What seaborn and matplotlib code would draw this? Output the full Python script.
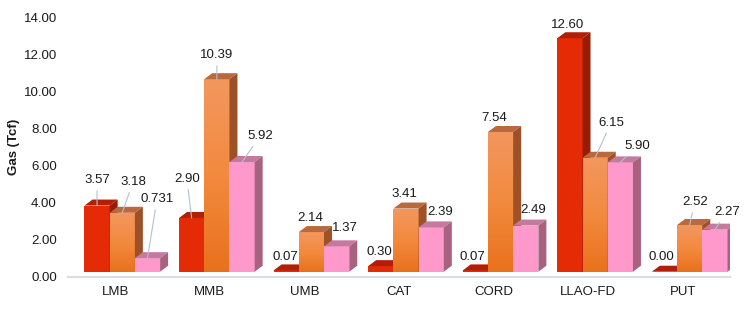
import numpy as np
import pandas as pd
import matplotlib
matplotlib.use('Agg')
import matplotlib.pyplot as plt
import seaborn as sns
from matplotlib.patches import Polygon
from matplotlib.colors import LinearSegmentedColormap

# data
categories = ['LMB', 'MMB', 'UMB', 'CAT', 'CORD', 'LLAO-FD', 'PUT']
series_names = ['Series 1', 'Series 2', 'Series 3']
values_s1 = [3.57, 2.90, 0.07, 0.30, 0.07, 12.60, 0.00]
values_s2 = [3.18, 10.39, 2.14, 3.41, 7.54, 6.15, 2.52]
values_s3 = [0.731, 5.92, 1.37, 2.39, 2.49, 5.90, 2.27]
labels_s1 = ['3.57', '2.90', '0.07', '0.30', '0.07', '12.60', '0.00']
labels_s2 = ['3.18', '10.39', '2.14', '3.41', '7.54', '6.15', '2.52']
labels_s3 = ['0.731', '5.92', '1.37', '2.39', '2.49', '5.90', '2.27']
yticks = [0, 2, 4, 6, 8, 10, 12, 14]

# label placement (pixels from front-top centre of each bar) and leader lines
offsets = [
    [(0, 25.5), (-4.7, 39), (-1, 13.4), (-1, 14), (-2.5, 13.4), (-2, 13), (-2.7, 14.7)],
    [(10.7, 30.8), (0, 24), (-1.5, 14), (-2, 14.5), (-6.7, 14), (16, 35), (5, 23)],
    [(9.5, 59), (18, 26), (8, 18), (9, 15), (7, 15.6), (16.5, 16.4), (12, 17.6)],
]
leaders = [
    [True, True, False, False, False, False, False],
    [True, True, False, False, False, True, True],
    [True, True, False, False, False, True, True],
]

front_colors = ['#E52B05', '#F0823A', '#FF99CC']
top_colors = ['#B01F06', '#B8693D', '#C47A9E']
side_colors = ['#981B04', '#9E5127', '#A8617F']
orange_grad = LinearSegmentedColormap.from_list('og', ['#E8711C', '#F38A3E', '#F2975F'])

df = pd.DataFrame({
    'Basin': categories * 3,
    'Series': np.repeat(series_names, len(categories)),
    'Gas': values_s1 + values_s2 + values_s3,
})
all_labels = [labels_s1, labels_s2, labels_s3]

sns.set_style('white')
plt.rcParams['font.family'] = ['Liberation Sans', 'DejaVu Sans']
fs = 9.5

fig = plt.figure(figsize=(7.48, 3.10), dpi=100)
ax = fig.add_axes([0.0909, 0.1074, 0.885, 0.8368])
sns.barplot(data=df, x='Basin', y='Gas', hue='Series', palette=front_colors,
            width=0.8, saturation=1, errorbar=None, legend=False, ax=ax)
ax.set_xlim(-0.5, 6.5)
ax.set_ylim(0, 14)

px_x = ax.bbox.width / 7.0
px_y = ax.bbox.height / 14.0
shift_x = 7 / px_x
floor = 5 / px_y
dx = 8 / px_x
dy = 6 / px_y

for j, cont in enumerate(ax.containers):
    bars = sorted(cont.patches, key=lambda b: b.get_x())
    for i, bar in enumerate(bars):
        x0 = bar.get_x() + shift_x
        w = bar.get_width()
        h = bar.get_height()
        bar.set_x(x0)
        bar.set_y(floor)
        bar.set_edgecolor('none')
        bar.set_zorder(2 + j)
        x1 = x0 + w
        top = floor + h
        if j == 1:
            grad = np.linspace(0, 1, 256).reshape(-1, 1)
            im = ax.imshow(grad, extent=[x0, x1, floor, top], origin='lower',
                           aspect='auto', cmap=orange_grad, zorder=2 + j + 0.01)
            im.set_clip_path(bar)
        ax.add_patch(Polygon([(x0, top), (x1, top), (x1 + dx, top + dy), (x0 + dx, top + dy)],
                             closed=True, facecolor=top_colors[j], edgecolor='none',
                             zorder=2 + j + 0.5))
        ax.add_patch(Polygon([(x1, floor), (x1 + dx, floor + dy), (x1 + dx, top + dy), (x1, top)],
                             closed=True, facecolor=side_colors[j], edgecolor='none',
                             zorder=2 + j + 0.5))
        ox, oy = offsets[j][i]
        arrow = None
        if leaders[j][i]:
            arrow = dict(arrowstyle='-', color='#B4C0CF', lw=0.8, shrinkA=1, shrinkB=0)
        ax.annotate(all_labels[j][i], xy=(x0 + w / 2, top), xytext=(ox * 0.72, oy * 0.72),
                    textcoords='offset points', ha='center', va='center', fontsize=fs,
                    color='#1A1A1A', arrowprops=arrow, zorder=10, annotation_clip=False)

ax.set_xlim(-0.5, 6.5)
ax.set_ylim(0, 14)
ax.set_yticks(yticks)
ax.set_yticklabels([f'{t:.2f}' for t in yticks])
ax.tick_params(axis='y', length=0, pad=8, labelsize=fs, labelcolor='#1A1A1A')
ax.tick_params(axis='x', length=0, pad=7, labelsize=fs, labelcolor='#1A1A1A')
ax.set_xlabel('')
ax.set_ylabel('Gas (Tcf)', fontsize=fs, fontweight='bold', color='#1A1A1A')
ax.yaxis.set_label_coords(-0.0725, 0.5)
for s in ['top', 'right', 'left']:
    ax.spines[s].set_visible(False)
ax.spines['bottom'].set_color('#D9DEE6')
ax.spines['bottom'].set_linewidth(1.5)
ax.grid(False)

fig.savefig('out.png', dpi=100)
